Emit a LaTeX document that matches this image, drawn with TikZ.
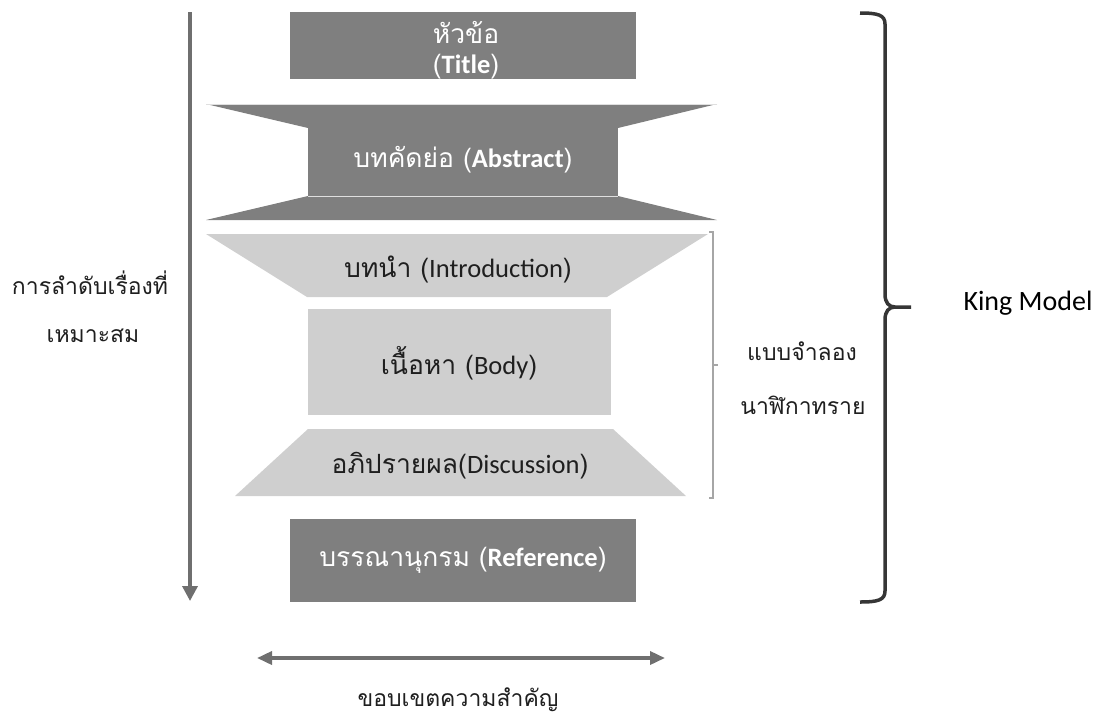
\documentclass[tikz,border=0pt]{standalone}
\usepackage{fontspec}
\usetikzlibrary{arrows.meta}
\newfontfamily\thai[Script=Thai]{Loma}
\newfontfamily\eng{Carlito}
\definecolor{darkbox}{HTML}{7F7F7F}
\definecolor{lightbox}{HTML}{CFCFCF}
\definecolor{arrowgray}{HTML}{6F6F6F}
\definecolor{brackgray}{HTML}{A6A6A6}
\definecolor{bracedark}{HTML}{363636}
\newcommand{\engb}[1]{{\eng\bfseries #1}}
\newcommand{\engm}[1]{{\eng #1}}
\begin{document}
\begin{tikzpicture}[x=1pt,y=-1pt,
  darkfill/.style={fill=darkbox},
  lightfill/.style={fill=lightbox},
  whitetext/.style={text=white, font=\thai\fontsize{26.5}{30}\selectfont, inner sep=0pt, align=center},
  blacktext/.style={text=black!88, font=\thai\fontsize{26.5}{30}\selectfont, inner sep=0pt, align=center},
  conn/.style={draw=arrowgray, line width=3.5pt},
  plainlabel/.style={text=black!88, font=\thai\fontsize{23}{28}\selectfont, inner sep=0pt}
]
\useasboundingbox (0,0) rectangle (1109,721);

% Title box
\fill[darkfill] (290,12) rectangle (636,79);
\node[whitetext] (title) at (466,50) {หัวข้อ\\(\engb{Title})};

% Abstract
\fill[darkfill] (206,104) -- (717,104) -- (618,128) -- (308,128) -- cycle;
\fill[darkfill] (308,127) rectangle (618,196);
\fill[darkfill] (308,196) -- (618,196) -- (717,220) -- (206,220) -- cycle;
\draw[white!75!gray, line width=0.6pt] (206,104) -- (717,104);
\draw[white!75!gray, line width=0.6pt] (308,196) -- (618,196);
\node[whitetext] (abstract) at (463,160) {บทคัดย่อ (\engb{Abstract})};

% Introduction
\fill[lightfill] (206,234) -- (708,234) -- (607,297) -- (307,297) -- cycle;
\node[blacktext] (intro) at (458,269) {บทนำ (\engm{Introduction})};

% Body
\fill[lightfill] (308,309) rectangle (611,415);
\node[blacktext] (body) at (459,363) {เนื้อหา (\engm{Body})};

% Discussion
\fill[lightfill] (308,429) -- (613,429) -- (686,496) -- (235,496) -- cycle;
\node[blacktext] (discussion) at (460,466) {อภิปรายผล(\engm{Discussion})};

% Reference
\fill[darkfill] (290,519) rectangle (636,602);
\node[whitetext] (reference) at (463,560) {บรรณานุกรม (\engb{Reference})};

% Left arrow
\coordinate (ltop) at (190,12);
\coordinate (lbot) at (190,601);
\draw[conn, -{Triangle[length=15pt,width=15pt]}] (ltop) -- (lbot);
\node[plainlabel] (order1) at (90,283) {การลำดับเรื่องที่};
\node[plainlabel] (order2) at (93,336) {เหมาะสม};

% Bottom arrow
\coordinate (bl) at (257,658);
\coordinate (br) at (665,658);
\draw[conn, {Triangle[length=15pt,width=13pt]}-{Triangle[length=15pt,width=13pt]}] (bl) -- (br);
\node[plainlabel] (scope) at (458,700) {ขอบเขตความสำคัญ};

% Gray bracket
\coordinate (gbtop) at (709,232);
\coordinate (gbbot) at (709,498);
\coordinate (gbmid) at (713,365);
\coordinate (gbtip) at (718,365);
\draw[brackgray, line width=2.3pt] (gbtop) -- (713,232) -- (713,498) -- (gbbot);
\draw[brackgray, line width=2.3pt] (gbmid) -- (gbtip);
\node[plainlabel] (hg1) at (802,351) {แบบจำลอง};
\node[plainlabel] (hg2) at (803,405) {นาฬิกาทราย};

% Big brace
\coordinate (btop) at (860,13);
\coordinate (bbot) at (860,602);
\coordinate (btip) at (911,307);
\draw[bracedark, line width=3.5pt]
  (btop) .. controls (878,13) and (885,15) .. (885,24)
  -- (885,294) .. controls (885,303) and (889,307) .. (895,307)
  -- (btip);
\draw[bracedark, line width=3.5pt]
  (895,307) .. controls (889,307) and (885,311) .. (885,320)
  -- (885,591) .. controls (885,600) and (878,602) .. (bbot);
\node[text=black, font=\eng\fontsize{28}{32}\selectfont, inner sep=0pt] (king) at (1028,303) {King Model};
\end{tikzpicture}
\end{document}
